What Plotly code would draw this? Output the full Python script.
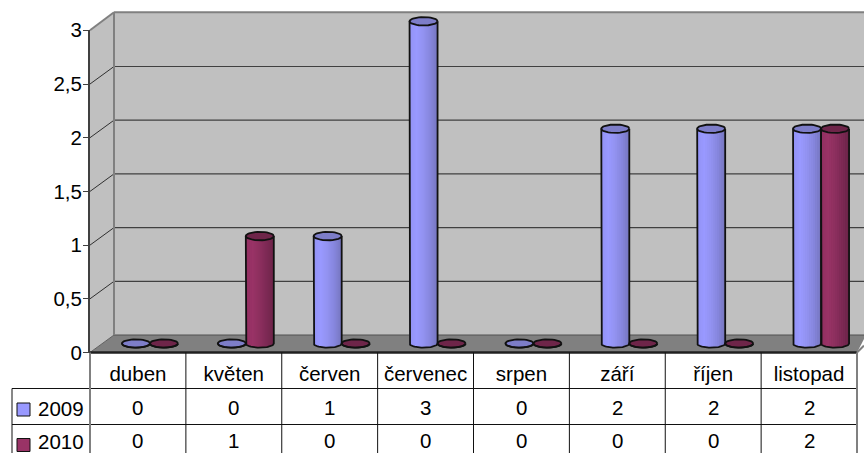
import math
import plotly.graph_objects as go

categories = ["duben", "květen", "červen", "červenec", "srpen", "září", "říjen", "listopad"]
series_names = ["2009", "2010"]
values_2009 = [0, 0, 1, 3, 0, 2, 2, 2]
values_2010 = [0, 1, 0, 0, 0, 0, 0, 2]
y_ticks = [0, 0.5, 1, 1.5, 2, 2.5, 3]

W, H = 864, 453
FONT = "Liberation Sans, Arial, sans-serif"
FS = 20.5
UNIT = 107.4            # px per value unit
Y0_FRONT, Y0_BAR = 352.5, 343.5
DEPTH_Y = 17.5
X_L, X_R, X_BACK = 90, 857, 114
COL = (X_R - X_L) / len(categories)
BAR_W = 28 / COL
CAP_B = 4.2 / UNIT
GROUP_SHIFT = 12

def px(p): return p / W
def py(p): return 1 - p / H

def ramp(stops, t):
    n = len(stops) - 1
    k = min(int(t * n), n - 1)
    f = t * n - k
    a, b = stops[k], stops[k + 1]
    return "rgb(%d,%d,%d)" % tuple(round(a[i] + (b[i] - a[i]) * f) for i in range(3))

styles = [
    dict(vals=values_2009, side=-0.5, cap="#7d7dc8", key="#9999ff",
         stops=[(146, 146, 245), (153, 153, 255), (146, 146, 240), (133, 133, 220), (118, 118, 190)]),
    dict(vals=values_2010, side=0.5, cap="#6e2549", key="#993366",
         stops=[(146, 48, 97), (153, 51, 102), (140, 47, 94), (125, 41, 84), (108, 36, 72)]),
]

fig = go.Figure()

# invisible base trace so the visible axis exists
fig.add_trace(go.Scatter(x=categories, y=[None] * len(categories), xaxis="x", yaxis="y",
                         showlegend=False, hoverinfo="skip"))

N = 14
xs = list(range(len(categories)))
for st in styles:
    for k in range(N):
        t0 = k / N
        tc = (k + 0.5) / N
        u = 2 * tc - 1
        d = CAP_B * math.sqrt(max(0, 1 - u * u))
        left = (st["side"] - 0.5) * BAR_W + t0 * BAR_W
        fig.add_trace(go.Bar(
            x=xs, y=st["vals"], base=[-d] * len(xs),
            width=BAR_W / N * 1.5 if k < N - 1 else BAR_W / N,
            offset=left,
            marker=dict(color=ramp(st["stops"], tc), line=dict(width=0)),
            xaxis="x2", yaxis="y2", showlegend=False, hoverinfo="skip"))
    # caps and outlines
    M = 36
    cap_x, cap_y, out_x, out_y = [], [], [], []
    for i, v in enumerate(st["vals"]):
        c = i + st["side"] * BAR_W
        ex = [c + BAR_W / 2 * math.cos(2 * math.pi * j / M) for j in range(M + 1)]
        ey = [v + CAP_B * math.sin(2 * math.pi * j / M) for j in range(M + 1)]
        cap_x += ex + [None]
        cap_y += ey + [None]
        out_x += ex + [None]
        out_y += ey + [None]
        lx = [c - BAR_W / 2] + [c - BAR_W / 2 * math.cos(math.pi * j / M) for j in range(M + 1)] + [c + BAR_W / 2]
        ly = [v] + [-CAP_B * math.sin(math.pi * j / M) for j in range(M + 1)] + [v]
        out_x += lx + [None]
        out_y += ly + [None]
    fig.add_trace(go.Scatter(x=cap_x, y=cap_y, mode="lines", fill="toself", fillcolor=st["cap"],
                             line=dict(width=0), xaxis="x2", yaxis="y2",
                             showlegend=False, hoverinfo="skip"))
    fig.add_trace(go.Scatter(x=out_x, y=out_y, mode="lines", line=dict(color="#111111", width=1.8),
                             xaxis="x2", yaxis="y2", showlegend=False, hoverinfo="skip"))

shapes = []
def poly(pts, fill):
    path = "M " + " L ".join(f"{px(a):.5f},{py(b):.5f}" for a, b in pts) + " Z"
    shapes.append(dict(type="path", path=path, xref="paper", yref="paper", fillcolor=fill,
                       line=dict(width=0), layer="below"))
def line(x0, y0, x1, y1, color, w=1.0):
    shapes.append(dict(type="line", xref="paper", yref="paper", x0=px(x0), y0=py(y0), x1=px(x1), y1=py(y1),
                       line=dict(color=color, width=w), layer="below"))

top_front = Y0_FRONT - 3 * UNIT
top_back = top_front - DEPTH_Y - 0.5
floor_back = Y0_FRONT - DEPTH_Y
poly([(X_L, top_front), (X_BACK, top_back), (W + 2, top_back), (W + 2, floor_back), (X_BACK, floor_back), (X_L, Y0_FRONT)], "#c0c0c0")
poly([(X_L, Y0_FRONT), (X_BACK, floor_back), (W + 2, floor_back), (X_R, Y0_FRONT)], "#808080")

for v in y_ticks[1:-1]:
    pf = Y0_FRONT - v * UNIT
    line(X_L, pf, X_BACK, pf - DEPTH_Y, "#303030", 1)
    line(X_BACK, pf - DEPTH_Y, W, pf - DEPTH_Y, "#404040", 1.2)
line(X_BACK, floor_back, W, floor_back, "#505050", 1)
line(X_L, Y0_FRONT, X_BACK, floor_back, "#606060", 1)
line(X_BACK, top_back, W, top_back, "#808080", 2)
line(X_L, top_front, X_BACK, top_back, "#808080", 2)
line(X_BACK, top_back, X_BACK, floor_back, "#808080", 2)

# table grid
ROW1, ROW2, ROW3 = Y0_FRONT, 388.5, 424.5
line(X_L, ROW1, X_R, ROW1, "#202020", 2.5)
line(X_R, ROW1, W, ROW1 - 7, "#808080", 2)
line(12, ROW2, X_R, ROW2, "#111111", 1)
line(12, ROW3, X_R, ROW3, "#111111", 1)
line(12, ROW2, 12, H, "#111111", 1)
line(X_L, ROW1, X_L, H, "#808080", 2)
line(X_R, ROW1, X_R, H, "#808080", 2)
for i in range(1, len(categories)):
    xp = X_L + COL * i
    line(xp, ROW1, xp, H, "#111111", 1)

annotations = []
ROW_TEXT_Y = (407.5, 440.5)
for row_y, st in zip(ROW_TEXT_Y, styles):
    for i, v in enumerate(st["vals"]):
        annotations.append(dict(x=categories[i], y=py(row_y), xref="x", yref="paper", text=str(v),
                                showarrow=False, xanchor="center", yanchor="middle", borderpad=0,
                                font=dict(family=FONT, size=FS, color="#000000")))
for name, row_y, key_y, st in zip(series_names, ROW_TEXT_Y, (409.5, 445), styles):
    annotations.append(dict(x=px(36.5), y=py(row_y + 0.5), xref="paper", yref="paper", text=name,
                            showarrow=False, xanchor="left", yanchor="middle", borderpad=0,
                            font=dict(family=FONT, size=FS, color="#000000")))
    shapes.append(dict(type="rect", xref="paper", yref="paper", x0=px(17), x1=px(30),
                       y0=py(key_y - 6.5), y1=py(key_y + 6.5), fillcolor=st["key"],
                       line=dict(color="#111111", width=1), layer="above"))

fig.update_layout(
    width=W, height=H, margin=dict(l=0, r=0, t=0, b=0, autoexpand=False), autosize=False,
    paper_bgcolor="#ffffff", plot_bgcolor="rgba(0,0,0,0)", separators=", ",
    barmode="overlay", showlegend=False, shapes=shapes, annotations=annotations,
    font=dict(family=FONT, size=FS, color="#000000"),
    xaxis=dict(type="category", domain=[px(X_L), px(X_R)], range=[-0.5, 7.5], anchor="y",
               categoryorder="array", categoryarray=categories, automargin=False,
               tickmode="array", tickvals=categories, ticktext=categories,
               showgrid=False, zeroline=False, showline=False,
               ticks="outside", ticklen=3, tickcolor="rgba(0,0,0,0)",
               tickfont=dict(family=FONT, size=FS), tickangle=0),
    yaxis=dict(domain=[py(Y0_FRONT), py(top_front)], range=[0, 3], anchor="x", automargin=False,
               tickmode="array", tickvals=y_ticks, ticktext=[("%g" % v).replace(".", ",") for v in y_ticks],
               showgrid=False, zeroline=False, showline=True, linecolor="#404040", linewidth=2,
               ticks="outside", ticklen=5, tickcolor="#404040", tickwidth=1, ticklabelstandoff=-3,
               tickfont=dict(family=FONT, size=FS)),
    xaxis2=dict(domain=[0, 1], anchor="y2", visible=False, fixedrange=True,
                range=[(0 - (X_L + COL / 2 + GROUP_SHIFT)) / COL, (W - (X_L + COL / 2 + GROUP_SHIFT)) / COL]),
    yaxis2=dict(domain=[0, 1], anchor="x2", visible=False, fixedrange=True,
                range=[(Y0_BAR - H) / UNIT, Y0_BAR / UNIT]),
)
fig.write_html("out.html", config={"displayModeBar": False},
               post_script="document.body.style.margin='0';document.body.style.overflow='hidden';")
